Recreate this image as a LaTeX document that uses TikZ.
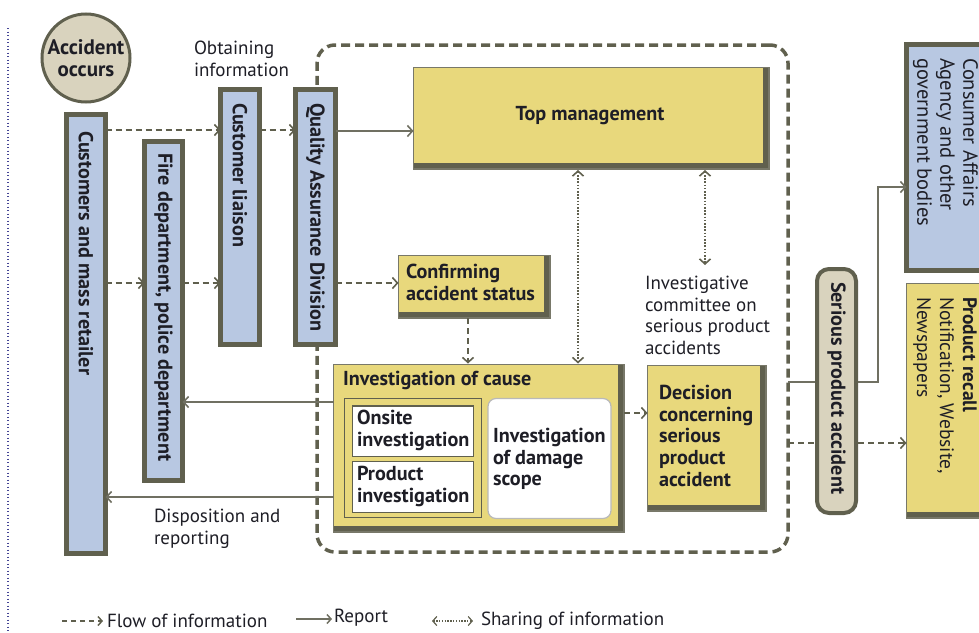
\documentclass[tikz,border=0pt]{standalone}
\usepackage{fontspec}
\setmainfont{PT Sans}
\usetikzlibrary{arrows.meta}
\definecolor{olive}{RGB}{96,96,78}
\definecolor{lineg}{RGB}{112,112,98}
\definecolor{bluef}{RGB}{184,200,226}
\definecolor{yelf}{RGB}{232,216,124}
\definecolor{beige}{RGB}{217,211,190}
\definecolor{txt}{RGB}{30,30,38}
\definecolor{pageblue}{RGB}{70,70,150}
\newcommand\mybox[6]{\node[#2, anchor=north west, minimum width={#5-#3}, minimum height={#6-#4}] (#1) at (#3,#4) {};}
\newcommand\boldfont{\bfseries\fontsize{20.2}{21.7}\selectfont}
\tikzset{
  every node/.style={font=\fontsize{19}{21.7}\selectfont, text=txt, inner sep=0pt, outer sep=0pt},
  >={Straight Barb[length=5pt,width=11pt,line width=1.6pt]},
  blu/.style={draw=olive, line width=5pt, fill=bluef},
  yel/.style={draw=olive!85, line width=1.2pt, fill=yelf,
    path picture={\fill[olive] ([xshift=-6pt]path picture bounding box.north east) rectangle (path picture bounding box.south east);
                  \fill[olive] ([yshift=6pt]path picture bounding box.south west) rectangle (path picture bounding box.south east);}},
  whitebox/.style={draw=olive, line width=1.2pt, fill=white},
  regionbox/.style={draw=olive, line width=3.5pt, dash pattern=on 9pt off 5pt, rounded corners=18pt},
  flowline/.style={draw=olive, line width=2.5pt, dash pattern=on 6pt off 4pt, ->},
  reportline/.style={draw=lineg, line width=1.8pt, ->},
  shareline/.style={draw=olive, line width=1.6pt, dash pattern=on 1.6pt off 1.6pt, <->},
  vtext/.style={rotate=-90, anchor=west, font=\boldfont},
  lbl/.style={anchor=north west, align=left},
  blbl/.style={anchor=north west, align=left, font=\boldfont},
}
\begin{document}
\begin{tikzpicture}[x=1pt,y=-1pt]
\useasboundingbox (0,0) rectangle (979,632);
% page margin line
\draw[draw=pageblue, line width=1.3pt, dash pattern=on 1.3pt off 2.2pt] (8,28) -- (8,632);
% dashed region
\node[regionbox, anchor=north west, minimum width=471, minimum height=507] (region) at (317,45) {};
% helper coordinates
\coordinate (y130) at (0,130);
\coordinate (y131) at (0,131);
\coordinate (y283) at (0,283);
\coordinate (y187) at (0,187);
\coordinate (y382) at (0,382);
\coordinate (y402) at (0,402);
\coordinate (y413) at (0,413);
\coordinate (y443) at (0,443);
\coordinate (y497) at (0,497);
\coordinate (x468) at (468,0);
\coordinate (x578) at (578,0);
\coordinate (x705) at (705,0);
\coordinate (x878) at (878,0);
% accident circle
\node[circle, draw=olive, line width=3pt, fill=beige, minimum size=88] (acc) at (86,58) {};
\node[align=center, font=\bfseries\fontsize{21}{22}\selectfont] (acctext) at (acc.center) {Accident\\occurs};
% blue boxes
\mybox{cust}{blu}{66.5}{114.5}{105.5}{553.5}
\mybox{fire}{blu}{144.5}{141.5}{182.5}{480.5}
\mybox{liaison}{blu}{220.5}{89.5}{259.5}{344.5}
\mybox{qa}{blu}{295.5}{89.5}{335.5}{344.5}
\mybox{consumer}{blu}{906.5}{44.5}{1000}{270.5}
\node[vtext] (custtext) at (86,131) {Customers and mass retailer};
\node[vtext] (firetext) at (163.5,153) {Fire department, police department};
\node[vtext] (liaisontext) at (240,103) {Customer liaison};
\node[vtext] (qatext) at (315.5,103) {Quality Assurance Division};
\node[rotate=-90, anchor=north west, align=left, font=\fontsize{20.5}{23}\selectfont] (consumertext) at (978,58) {Consumer Affairs\\Agency and other\\government bodies};
% yellow boxes
\mybox{top}{yel}{413.5}{67.5}{769}{169}
\node[font=\boldfont] (toptext) at (590,116) {Top management};
\mybox{confirm}{yel}{398.5}{255.5}{550}{318}
\node[blbl] (confirmtext) at (406,264) {Confirming\\accident status};
\mybox{invcause}{yel}{333.5}{364.5}{624}{532}
\node[blbl] (invtext) at (343,371) {Investigation of cause};
\mybox{frame}{draw=olive, line width=1.5pt}{344.5}{398.5}{481.5}{517.5}
\mybox{onsite}{whitebox}{352.5}{406}{473.5}{456.5}
\node[blbl] (onsitetext) at (357,410) {Onsite\\investigation};
\mybox{prodinv}{whitebox}{352.5}{461.5}{473.5}{512.5}
\node[blbl] (prodinvtext) at (357,466) {Product\\investigation};
\mybox{damage}{draw=gray!55, line width=1.2pt, fill=white, rounded corners=8pt}{488}{398.5}{611}{518.5}
\node[blbl] (damagetext) at (493,428) {Investigation\\of damage\\scope};
\mybox{decision}{yel}{647.5}{365.5}{766}{511}
\node[blbl] (decisiontext) at (659,385) {Decision\\concerning\\serious\\product\\accident};
\mybox{recall}{yel}{906.5}{283.5}{1000}{518}
\node[rotate=-90, anchor=north west, align=left, font=\fontsize{19.5}{23}\selectfont] (recalltext) at (977,297) {\textbf{Product recall}\\Notification, Website,\\Newspapers};
% free labels
\node[lbl] (obtain) at (194,41) {Obtaining\\information};
\node[lbl] (dispo) at (154,509) {Disposition and\\reporting};
\node[lbl] (committee) at (645,276) {Investigative\\committee on\\serious product\\accidents};
% connectors
\draw[flowline] (cust.east |- y130) -- (liaison.west |- y130);
\draw[flowline] (liaison.east |- y130) -- (qa.west |- y130);
\draw[flowline] (cust.east |- y283) -- (fire.west |- y283);
\draw[flowline] (fire.east |- y283) -- (liaison.west |- y283);
\draw[reportline] (qa.east |- y131) -- (top.west |- y131);
\draw[flowline] (qa.east |- y283) -- (confirm.west |- y283);
\draw[flowline] (confirm.south -| x468) -- ([yshift=1pt]invcause.north -| x468);
\draw[shareline] ([yshift=-1pt]top.south -| x578) -- ([yshift=1pt]invcause.north -| x578);
\draw[shareline] ([yshift=-1pt]top.south -| x705) -- ([yshift=11pt]committee.north -| x705);
\draw[reportline] (invcause.west |- y402) -- (fire.east |- y402);
\draw[reportline] (invcause.west |- y497) -- (cust.east |- y497);
\draw[flowline] (invcause.east |- y413) -- (decision.west |- y413);
\draw[reportline] (region.east |- y382) -- (x878 |- y382) |- (consumer.west |- y187);
\draw[flowline] (region.east |- y443) -- (recall.west |- y443);
% serious product accident (drawn over the two connectors)
\mybox{serious}{draw=olive, line width=4pt, fill=beige, rounded corners=12pt}{817}{269}{856}{513}
\node[vtext] (serioustext) at (836.5,282) {Serious product accident};
% legend
\coordinate (la1) at (62,621);
\coordinate (la2) at (103,621);
\coordinate (lb1) at (296,619);
\coordinate (lb2) at (332,619);
\coordinate (lc1) at (432,621);
\coordinate (lc2) at (473,621);
\draw[draw=olive, line width=2pt, dash pattern=on 5pt off 4pt, -{Straight Barb[length=4pt,width=9pt,line width=1.5pt]}] (la1) -- (la2);
\node[anchor=west] (leg1) at (107,621) {Flow of information};
\draw[draw=lineg, line width=1.8pt, -{Straight Barb[length=4pt,width=9pt,line width=1.5pt]}] (lb1) -- (lb2);
\node[anchor=west] (leg2) at (334,618) {Report};
\draw[draw=olive, line width=1.3pt, dash pattern=on 1.4pt off 1.4pt, {Straight Barb[length=4pt,width=9pt,line width=1.2pt]}-{Straight Barb[length=4pt,width=9pt,line width=1.2pt]}] (lc1) -- (lc2);
\node[anchor=west] (leg3) at (481,621) {Sharing of information};
\end{tikzpicture}
\end{document}
